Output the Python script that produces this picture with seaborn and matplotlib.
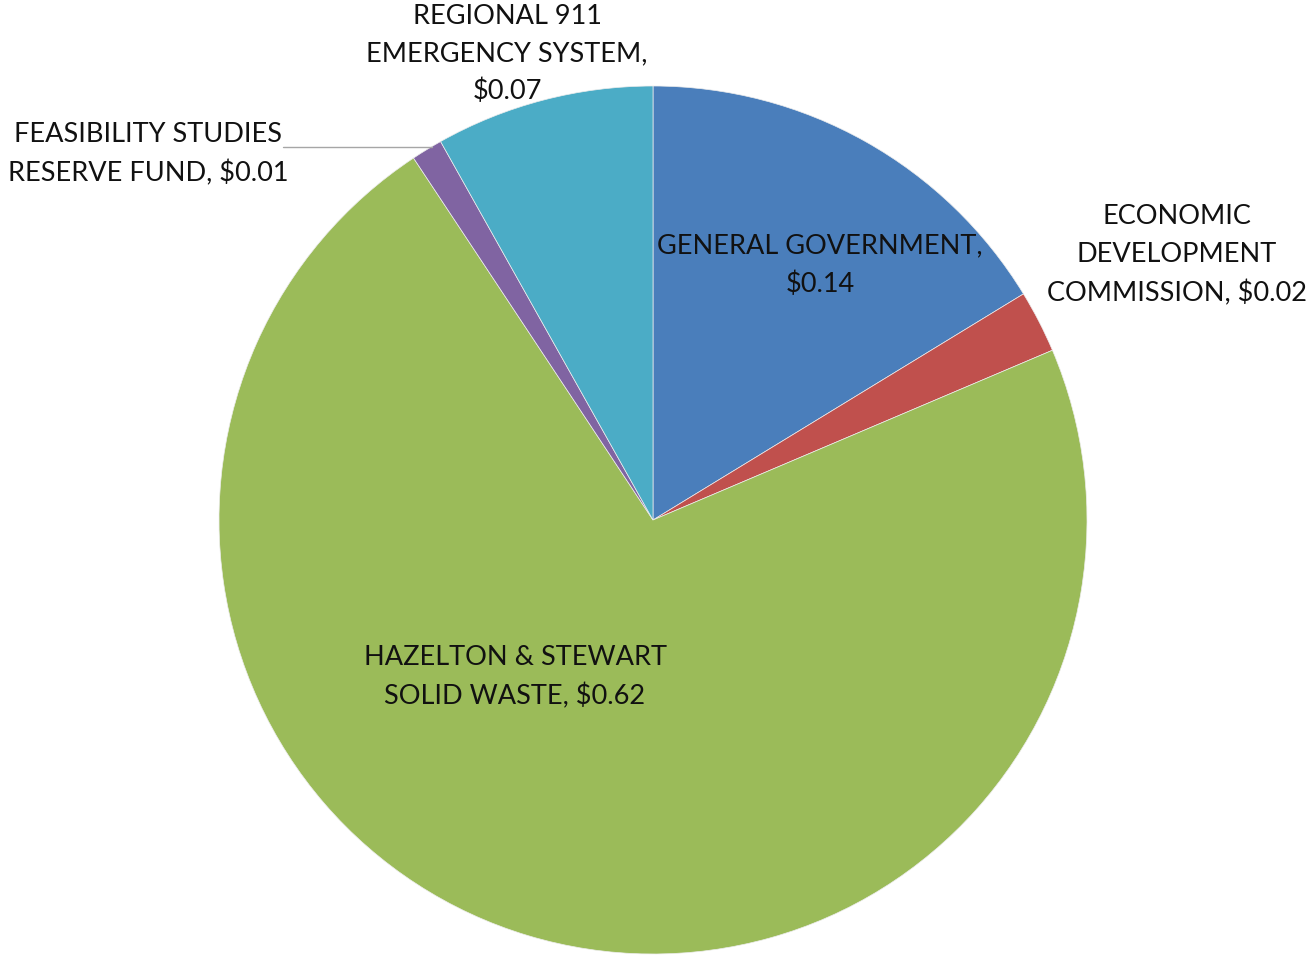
import matplotlib
matplotlib.use("Agg")
import matplotlib.pyplot as plt
import seaborn as sns

# Budget shares per function (dollars)
categories = [
    "GENERAL GOVERNMENT",
    "ECONOMIC DEVELOPMENT COMMISSION",
    "HAZELTON & STEWART SOLID WASTE",
    "FEASIBILITY STUDIES RESERVE FUND",
    "REGIONAL 911 EMERGENCY SYSTEM",
]
values = [0.14, 0.02, 0.62, 0.01, 0.07]
label_texts = [
    "GENERAL GOVERNMENT,\n$0.14",
    "ECONOMIC\nDEVELOPMENT\nCOMMISSION, $0.02",
    "HAZELTON & STEWART\nSOLID WASTE, $0.62",
    "FEASIBILITY STUDIES\nRESERVE FUND, $0.01",
    "REGIONAL 911\nEMERGENCY SYSTEM,\n$0.07",
]

sns.set_theme(style="white")
plt.rcParams["font.family"] = ["Lato", "DejaVu Sans"]

colors = ["#4A7EBB", "#C0504D", "#9BBB59", "#8064A2", "#4BACC6"]

W, H = 1311, 957
fig = plt.figure(figsize=(W / 100, H / 100), dpi=100)
ax = fig.add_axes([0, 0, 1, 1])

cx, cy, r = 653, H - 520, 434
ax.pie(values, colors=colors, startangle=90, counterclock=False,
       center=(cx, cy), radius=r,
       wedgeprops=dict(edgecolor="#EDEDED", linewidth=0.5))
ax.set_xlim(0, W)
ax.set_ylim(0, H)
ax.set_aspect("equal")
ax.axis("off")

fs = 19.5
pos = [(820, 265), (1177, 255), (515, 677), (148, 154), (507, 54)]
for (x, y), t in zip(pos, label_texts):
    ax.text(x, H - y, t, ha="center", va="center", fontsize=fs,
            color="#111111", linespacing=1.62)

# leader line for the small reserve-fund slice
ax.plot([283, 432], [H - 147, H - 147], color="#A6A6A6", lw=1)

fig.savefig("out.png", dpi=100)
